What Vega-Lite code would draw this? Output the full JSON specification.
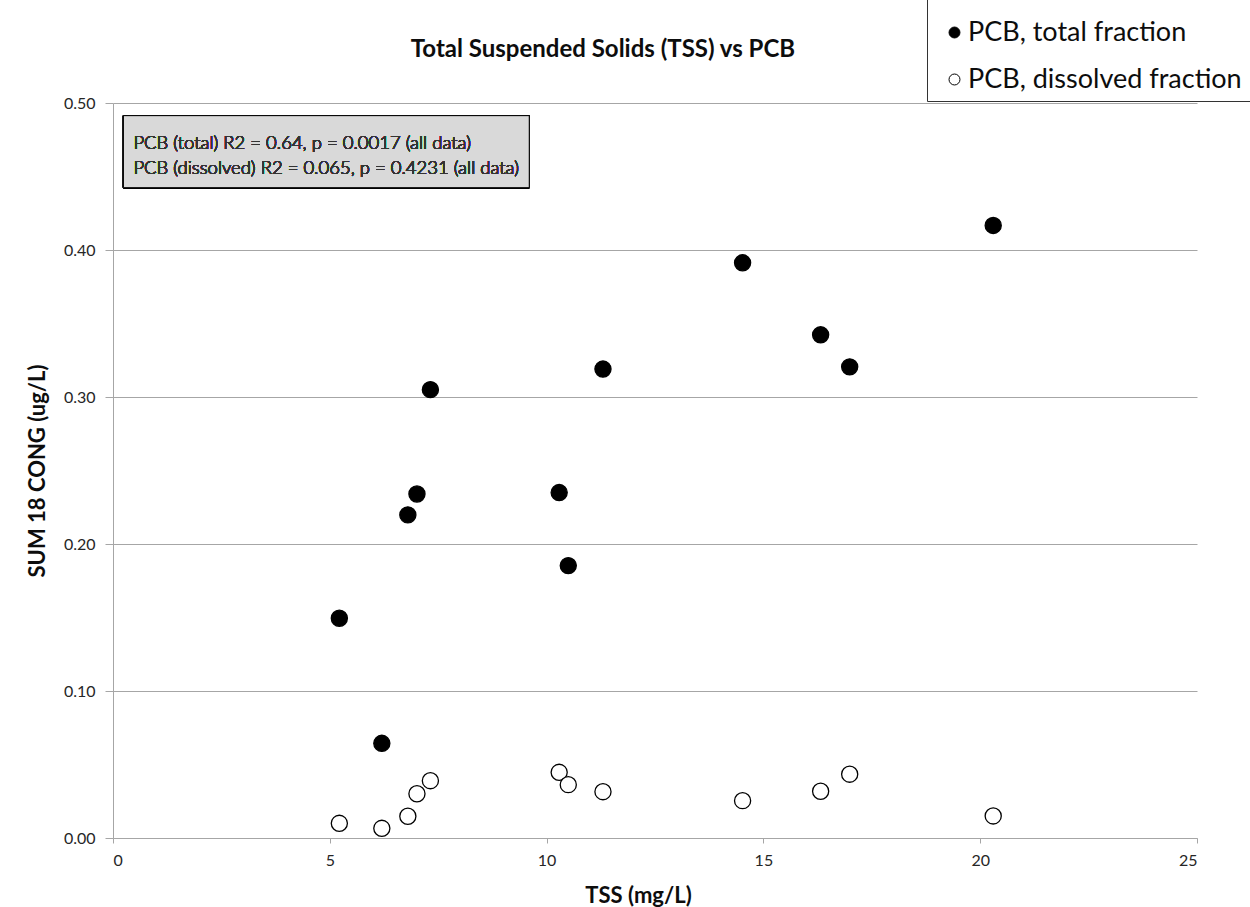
{
  "$schema": "https://vega.github.io/schema/vega-lite/v6.json",
  "width": 1084,
  "height": 735,
  "autosize": "none",
  "padding": {"left": 113, "top": 103, "right": 53, "bottom": 69},
  "background": "white",
  "config": {
    "font": "Lato",
    "view": {"stroke": null},
    "axis": {
      "domainColor": "#a6a6a6",
      "tickColor": "#a6a6a6",
      "gridColor": "#a6a6a6",
      "labelColor": "#262626",
      "labelFontSize": 16,
      "titleFontSize": 22,
      "titleFontWeight": "bold",
      "titleColor": "#0d0d0d"
    }
  },
  "title": {
    "text": "Total Suspended Solids (TSS) vs PCB",
    "fontSize": 24,
    "fontWeight": "bold",
    "color": "#0d0d0d",
    "anchor": "middle",
    "dx": -52,
    "offset": -65
  },
  "data": {
    "values": [
      {"tss": 5.22, "pcb": 0.1495, "series": "PCB, total fraction"},
      {"tss": 6.20, "pcb": 0.0644, "series": "PCB, total fraction"},
      {"tss": 6.80, "pcb": 0.2198, "series": "PCB, total fraction"},
      {"tss": 7.01, "pcb": 0.2340, "series": "PCB, total fraction"},
      {"tss": 7.32, "pcb": 0.3050, "series": "PCB, total fraction"},
      {"tss": 10.29, "pcb": 0.2350, "series": "PCB, total fraction"},
      {"tss": 10.50, "pcb": 0.1853, "series": "PCB, total fraction"},
      {"tss": 11.30, "pcb": 0.3190, "series": "PCB, total fraction"},
      {"tss": 14.52, "pcb": 0.3913, "series": "PCB, total fraction"},
      {"tss": 16.32, "pcb": 0.3423, "series": "PCB, total fraction"},
      {"tss": 16.99, "pcb": 0.3205, "series": "PCB, total fraction"},
      {"tss": 20.30, "pcb": 0.4167, "series": "PCB, total fraction"},
      {"tss": 5.22, "pcb": 0.0100, "series": "PCB, dissolved fraction"},
      {"tss": 6.20, "pcb": 0.0066, "series": "PCB, dissolved fraction"},
      {"tss": 6.80, "pcb": 0.0148, "series": "PCB, dissolved fraction"},
      {"tss": 7.01, "pcb": 0.0301, "series": "PCB, dissolved fraction"},
      {"tss": 7.32, "pcb": 0.0390, "series": "PCB, dissolved fraction"},
      {"tss": 10.29, "pcb": 0.0447, "series": "PCB, dissolved fraction"},
      {"tss": 10.50, "pcb": 0.0363, "series": "PCB, dissolved fraction"},
      {"tss": 11.30, "pcb": 0.0315, "series": "PCB, dissolved fraction"},
      {"tss": 14.52, "pcb": 0.0254, "series": "PCB, dissolved fraction"},
      {"tss": 16.32, "pcb": 0.0318, "series": "PCB, dissolved fraction"},
      {"tss": 16.99, "pcb": 0.0434, "series": "PCB, dissolved fraction"},
      {"tss": 20.30, "pcb": 0.0150, "series": "PCB, dissolved fraction"}
    ]
  },
  "layer": [
    {
      "mark": {"type": "rect", "fill": "#d9d9d9", "stroke": "#000000", "strokeWidth": 1},
      "encoding": {
        "x": {"datum": 0.24, "type": "quantitative"},
        "x2": {"datum": 9.6},
        "y": {"datum": 0.4914, "type": "quantitative"},
        "y2": {"datum": 0.4424}
      }
    },
    {
      "mark": {
        "type": "text",
        "text": ["PCB (total) R2 = 0.64, p = 0.0017 (all data)", "PCB (dissolved)  R2 = 0.065, p = 0.4231 (all data)"],
        "align": "left",
        "baseline": "middle",
        "fontSize": 18.5,
        "fontWeight": 300,
        "lineHeight": 25,
        "color": "#333333"
      },
      "encoding": {
        "x": {"datum": 0.47, "type": "quantitative"},
        "y": {"datum": 0.4725, "type": "quantitative"}
      }
    },
    {
      "mark": {"type": "point", "shape": "circle", "filled": true, "size": 260, "stroke": "#000000", "strokeWidth": 1.3, "opacity": 1},
      "encoding": {
        "x": {
          "field": "tss",
          "type": "quantitative",
          "scale": {"domain": [0, 25], "nice": false, "zero": true},
          "axis": {
            "title": "TSS (mg/L)",
            "values": [0, 5, 10, 15, 20, 25],
            "format": "d",
            "grid": false,
            "tickSize": 5,
            "labelPadding": 9,
            "titlePadding": 17,
            "titleX": 525
          }
        },
        "y": {
          "field": "pcb",
          "type": "quantitative",
          "scale": {"domain": [0, 0.5], "nice": false},
          "axis": {
            "title": "SUM 18 CONG (ug/L)",
            "values": [0, 0.1, 0.2, 0.3, 0.4, 0.5],
            "format": ".2f",
            "grid": true,
            "tickSize": 8,
            "labelPadding": 10,
            "titlePadding": 14
          }
        },
        "fill": {
          "field": "series",
          "type": "nominal",
          "scale": {"domain": ["PCB, total fraction", "PCB, dissolved fraction"], "range": ["#000000", "#ffffff"]},
          "legend": {
            "title": " ",
            "titleFontSize": 10,
            "titlePadding": 4,
            "orient": "none",
            "legendX": 814,
            "legendY": -106,
            "padding": 8,
            "fillColor": "#ffffff",
            "strokeColor": "#333333",
            "symbolType": "circle",
            "symbolSize": 120,
            "symbolStrokeColor": "#000000",
            "symbolStrokeWidth": 1,
            "symbolOffset": 6,
            "labelFontSize": 27,
            "labelColor": "#0d0d0d",
            "labelOffset": 0,
            "labelLimit": 400,
            "rowPadding": 19
          }
        }
      }
    }
  ]
}
